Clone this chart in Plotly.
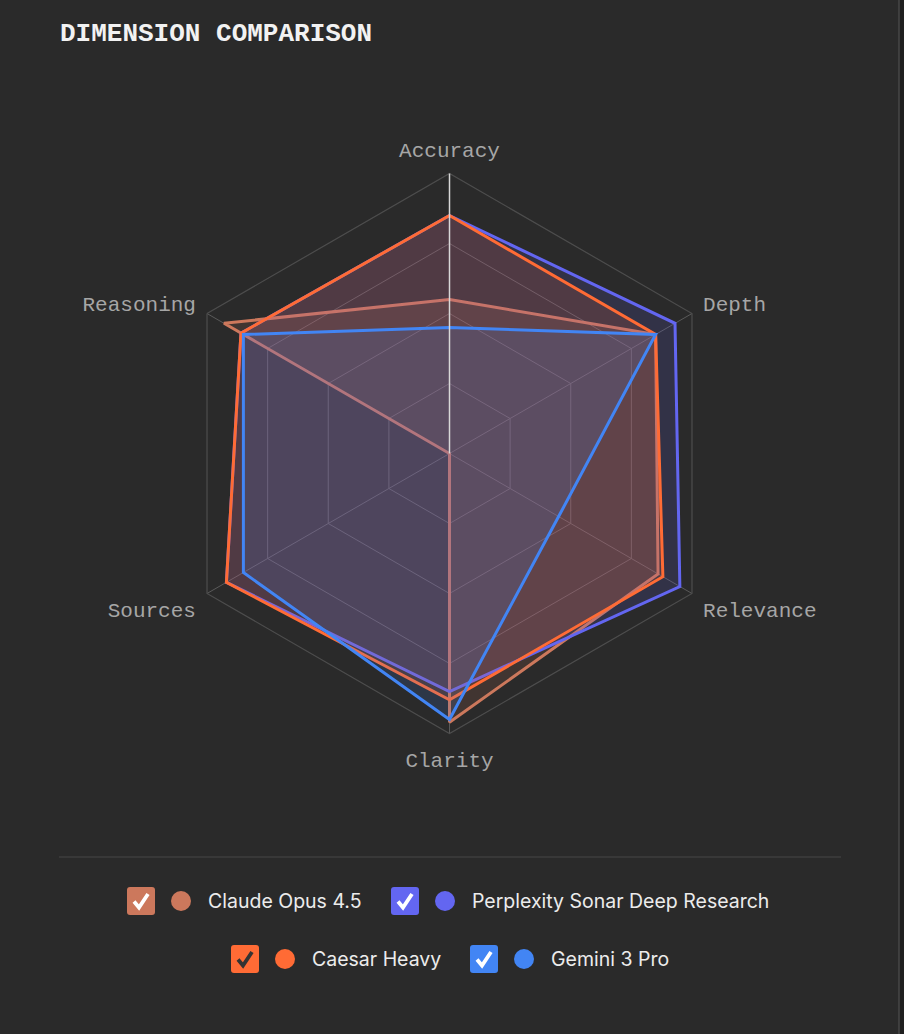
import plotly.graph_objects as go

W, H = 904, 1034

dimensions = ["Accuracy", "Depth", "Relevance", "Clarity", "Sources", "Reasoning"]

claude_opus = [55, 85, 86, 96, 0, 93]
perplexity_sonar = [85, 93, 95, 85, 92, 86]
caesar_heavy = [85, 85, 88, 88, 92, 86]
gemini_pro = [45, 85, 45, 95, 85, 85]

model_names = ["Claude Opus 4.5", "Perplexity Sonar Deep Research", "Caesar Heavy", "Gemini 3 Pro"]
model_colors = ["#cc785c", "#6366f1", "#ff6b35", "#4285f4"]
fill_colors = ["rgba(204,120,92,0.15)", "rgba(99,102,241,0.15)",
               "rgba(255,107,53,0.15)", "rgba(66,133,244,0.15)"]
series = [claude_opus, perplexity_sonar, caesar_heavy, gemini_pro]


def px(x):
    return x / W


def py(y):
    return 1 - y / H


fig = go.Figure()

for name, vals, col, fcol in zip(model_names, series, model_colors, fill_colors):
    fig.add_trace(go.Scatterpolar(
        r=vals + vals[:1],
        theta=dimensions + dimensions[:1],
        name=name,
        mode="lines",
        line=dict(color=col, width=3),
        fill="toself",
        fillcolor=fcol,
        hoverinfo="skip",
    ))

# center of the radar ~ (449.5, 453.5), radius 280 px
cx, cy, R = 449.5, 453.5, 280
fig.update_layout(
    width=W, height=H,
    margin=dict(l=0, r=0, t=0, b=0),
    paper_bgcolor="#2a2a2a",
    plot_bgcolor="#2a2a2a",
    showlegend=False,
    polar=dict(
        bgcolor="rgba(0,0,0,0)",
        gridshape="linear",
        domain=dict(x=[px(cx - R), px(cx + R)], y=[py(cy + R), py(cy - R)]),
        angularaxis=dict(
            direction="clockwise",
            rotation=90,
            linecolor="#4d4d4d",
            linewidth=1.2,
            gridcolor="#5a5a5a",
            ticks="outside",
            ticklen=8,
            tickcolor="rgba(0,0,0,0)",
            tickfont=dict(family="Courier New, Liberation Mono, monospace", size=21, color="#a6a6a6"),
        ),
        radialaxis=dict(
            range=[0, 100],
            tickvals=[25, 50, 75, 100],
            showticklabels=False,
            ticks="",
            gridcolor="#5a5a5a",
            linecolor="#d8d8d8",
            linewidth=1.5,
            angle=90,
        ),
    ),
)

shapes = []
annotations = []

# title
annotations.append(dict(
    x=px(58), y=py(34), xref="paper", yref="paper", xanchor="left", yanchor="middle",
    text="<b>DIMENSION COMPARISON</b>", showarrow=False,
    font=dict(family="Courier New, Liberation Mono, monospace", size=26, color="#f2f2f2"),
))

# right edge of the card
shapes.append(dict(type="rect", xref="paper", yref="paper", x0=px(899), x1=1, y0=0, y1=1,
                   fillcolor="#1f1f1f", line=dict(width=0), layer="above"))
shapes.append(dict(type="line", xref="paper", yref="paper", x0=px(899), x1=px(899), y0=0, y1=1,
                   line=dict(color="#474747", width=1.5), layer="above"))

# separator above legend
shapes.append(dict(type="line", xref="paper", yref="paper", x0=px(59), x1=px(841), y0=py(857), y1=py(857),
                   line=dict(color="#474747", width=1)))


def rounded_box(x0, y0, s, r):
    x1, y1 = x0 + s, y0 + s
    pts = [
        f"M {px(x0 + r)},{py(y0)}",
        f"L {px(x1 - r)},{py(y0)}",
        f"Q {px(x1)},{py(y0)} {px(x1)},{py(y0 + r)}",
        f"L {px(x1)},{py(y1 - r)}",
        f"Q {px(x1)},{py(y1)} {px(x1 - r)},{py(y1)}",
        f"L {px(x0 + r)},{py(y1)}",
        f"Q {px(x0)},{py(y1)} {px(x0)},{py(y1 - r)}",
        f"L {px(x0)},{py(y0 + r)}",
        f"Q {px(x0)},{py(y0)} {px(x0 + r)},{py(y0)}",
        "Z",
    ]
    return " ".join(pts)


# custom legend: checkbox, dot, label
legend_pos = [(127, 901), (391, 901), (231, 959), (470, 959)]
check_colors = ["#ffffff", "#ffffff", "#333333", "#ffffff"]
for name, col, (bx, yc), ck in zip(model_names, model_colors, legend_pos, check_colors):
    s = 28
    by = yc - s / 2
    shapes.append(dict(type="path", xref="paper", yref="paper", path=rounded_box(bx, by, s, 3),
                       fillcolor=col, line=dict(width=0)))
    shapes.append(dict(type="path", xref="paper", yref="paper",
                       path=f"M {px(bx + 7)},{py(by + 14.5)} L {px(bx + 12)},{py(by + 20.5)} L {px(bx + 21)},{py(by + 7)}",
                       line=dict(color=ck, width=3.8)))
    dx = bx + 54
    shapes.append(dict(type="circle", xref="paper", yref="paper",
                       x0=px(dx - 10), x1=px(dx + 10), y0=py(yc + 10), y1=py(yc - 10),
                       fillcolor=col, line=dict(width=0)))
    annotations.append(dict(
        x=px(bx + 79), y=py(yc), xref="paper", yref="paper", xanchor="left", yanchor="middle",
        text=name, showarrow=False,
        font=dict(family="Inter, Noto Sans, sans-serif", size=19.5, color="#ececec"),
    ))

fig.update_layout(shapes=shapes, annotations=annotations)

fig.write_html(
    "out.html",
    config={"displayModeBar": False},
    post_script="document.body.style.margin='0';document.body.style.background='#1f1f1f';",
)
